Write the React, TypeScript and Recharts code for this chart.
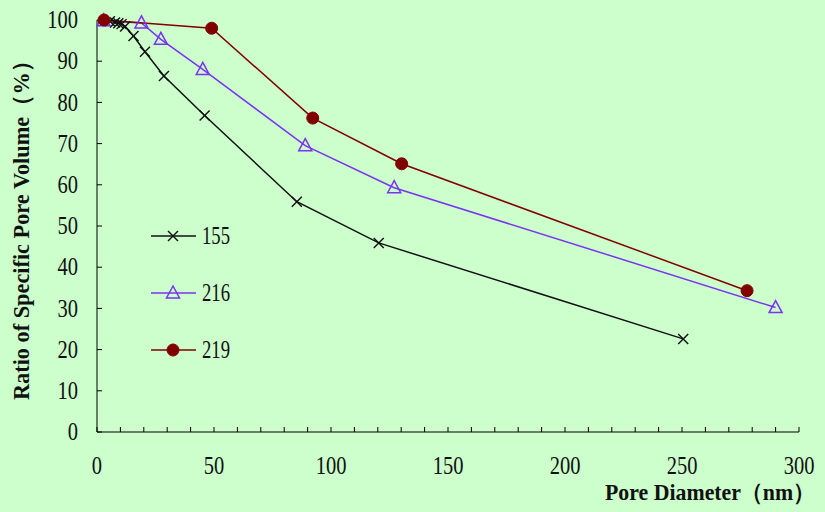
import { LineChart, Line, XAxis, YAxis } from 'recharts'

const BG = '#ccffcc'
const FONT = 'Liberation Serif, Times New Roman, serif'

const s155X = [5.5, 7.7, 9.1, 10.5, 12, 15.6, 20.5, 28.6, 46, 85.4, 120.4, 250.5]
const s155Y = [99.7, 99.4, 99.2, 99, 98.4, 96.1, 92.3, 86.4, 76.8, 55.9, 45.9, 22.6]

const s216X = [2.8, 19, 27.3, 45.2, 89, 127, 290]
const s216Y = [99.8, 99.3, 95.3, 88, 69.5, 59.3, 30.2]

const s219X = [3, 49, 92.2, 130.2, 277.8]
const s219Y = [100, 98, 76.2, 65.1, 34.3]

const xTicks = [0, 10, 20, 30, 40, 50, 60, 70, 80, 90, 100, 110, 120, 130, 140, 150, 160, 170, 180, 190, 200, 210, 220, 230, 240, 250, 260, 270, 280, 290, 300]
const xLabels = [0, 50, 100, 150, 200, 250, 300]
const yTicks = [0, 10, 20, 30, 40, 50, 60, 70, 80, 90, 100]

const toPoints = (xs: number[], ys: number[]) => xs.map((x, i) => ({ x, y: ys[i] }))

const series = [
  { name: '155', color: '#111111', data: toPoints(s155X, s155Y), marker: 'cross' },
  { name: '216', color: '#7a33f0', data: toPoints(s216X, s216Y), marker: 'triangle' },
  { name: '219', color: '#800000', data: toPoints(s219X, s219Y), marker: 'circle' },
]

function Marker({ type, cx, cy, color }: { type: string; cx: number; cy: number; color: string }) {
  if (type === 'cross') {
    const r = 5
    return (
      <g stroke={color} strokeWidth={1.4}>
        <line x1={cx - r} y1={cy - r} x2={cx + r} y2={cy + r} />
        <line x1={cx - r} y1={cy + r} x2={cx + r} y2={cy - r} />
      </g>
    )
  }
  if (type === 'triangle') {
    return (
      <polygon
        points={`${cx},${cy - 7} ${cx - 6.5},${cy + 5} ${cx + 6.5},${cy + 5}`}
        fill="none"
        stroke={color}
        strokeWidth={1.5}
      />
    )
  }
  return <circle cx={cx} cy={cy} r={6} fill={color} stroke={color} />
}

// narrow, tall numerals like the original
function Num({ x, y, text, anchor }: { x: number; y: number; text: string; anchor: string }) {
  return (
    <g transform={`translate(${x},${y}) scale(0.82,1)`}>
      <text x={0} y={0} textAnchor={anchor} dominantBaseline="central" style={{ fontFamily: FONT, fontSize: 25 }} fill="#111">
        {text}
      </text>
    </g>
  )
}

function XTick(props: any) {
  const v = props.payload.value
  if (!xLabels.includes(v)) return null
  return <Num x={props.x} y={466} text={String(v)} anchor="middle" />
}

function YTick(props: any) {
  return <Num x={78} y={props.y} text={String(props.payload.value)} anchor="end" />
}

function LegendBox() {
  return (
    <div style={{ position: 'absolute', left: 151, top: 207, fontFamily: FONT, fontSize: 20, color: '#111' }}>
      {series.map((s) => (
        <div key={s.name} style={{ display: 'flex', alignItems: 'center', height: 57 }}>
          <svg width={48} height={20}>
            <line x1={0} y1={10} x2={45} y2={10} stroke={s.color} strokeWidth={1.5} />
            <Marker type={s.marker} cx={22} cy={10} color={s.color} />
          </svg>
          <span style={{ marginLeft: 3, display: 'inline-block', transform: 'scale(0.85,1.15)', transformOrigin: 'left center', fontSize: 22 }}>{s.name}</span>
        </div>
      ))}
    </div>
  )
}

export default function App() {
  return (
    <div style={{ position: 'absolute', left: 0, top: 0, width: 825, height: 512, background: BG }}>
      <LineChart width={825} height={512} margin={{ top: 20, right: 26, bottom: 0, left: 0 }}>
        <XAxis
          dataKey="x"
          type="number"
          domain={[0, 300]}
          ticks={xTicks}
          interval={0}
          height={80}
          allowDuplicatedCategory={false}
          stroke="#000"
          tickSize={-5}
          tick={<XTick />}
          label={{
            content: () => (
              <text
                x={605}
                y={500}
                textLength={210}
                lengthAdjust="spacingAndGlyphs"
                style={{ fontFamily: FONT, fontSize: 23, fontWeight: 'bold' }}
                fill="#111"
              >
                Pore Diameter（nm）
              </text>
            ),
          }}
        />
        <YAxis
          type="number"
          domain={[0, 100]}
          ticks={yTicks}
          interval={0}
          width={97}
          stroke="#000"
          tickSize={-5}
          tick={<YTick />}
          label={{
            content: () => (
              <text
                x={0}
                y={0}
                transform="translate(29,400) rotate(-90)"
                textLength={350}
                lengthAdjust="spacingAndGlyphs"
                style={{ fontFamily: FONT, fontSize: 23, fontWeight: 'bold' }}
                fill="#111"
              >
                Ratio of Specific Pore Volume（%）
              </text>
            ),
          }}
        />
        {series.map((s) => (
          <Line
            key={s.name}
            data={s.data}
            dataKey="y"
            name={s.name}
            stroke={s.color}
            strokeWidth={1.5}
            isAnimationActive={false}
            dot={(p: any) => <Marker key={`${s.name}-${p.index}`} type={s.marker} cx={p.cx} cy={p.cy} color={s.color} />}
            activeDot={false}
          />
        ))}
      </LineChart>
      <LegendBox />
    </div>
  )
}
